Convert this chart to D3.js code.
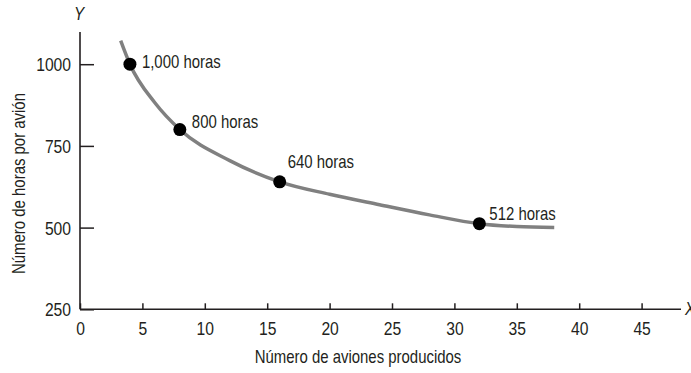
<!DOCTYPE html>
<html>
<head>
<meta charset="utf-8">
<script src="https://cdn.jsdelivr.net/npm/d3@7"></script>
<style>
  html, body { margin: 0; padding: 0; background: #fff; }
  svg { display: block; font-family: "Liberation Sans", Arial, sans-serif; }
  .axis text { font-size: 18px; fill: #231f20; }
  .axis path.domain { display: none; }
  .axis line { stroke: #231f20; stroke-width: 1.5; }
</style>
</head>
<body>
<svg id="chart" width="691" height="373"></svg>
<script>
// Learning curve: hours needed per plane as cumulative output grows
const planeCount = [4, 8, 16, 32];
const hoursPerPlane = [1000, 800, 640, 512];
const pointLabels = ["1,000 horas", "800 horas", "640 horas", "512 horas"];

// Traced learning curve through the production points
const curveX = [3.26, 4, 6, 8, 12, 16, 20, 24, 28, 32, 35, 38];
const curveY = [1072, 1000, 882, 800, 705, 640, 602, 570, 539, 512, 503, 500];

const xTicks = [0, 5, 10, 15, 20, 25, 30, 35, 40, 45];
const yTicks = [250, 500, 750, 1000];

const xTitle = "Número de aviones producidos";
const yTitle = "Número de horas por avión";

const svg = d3.select("#chart");

const x = d3.scaleLinear().domain([0, 45]).range([80, 641.6]);
const y = d3.scaleLinear().domain([250, 1000]).range([309.3, 64.2]);

const ink = "#231f20";

// Narrow the glyphs horizontally around each text's own anchor point
function condense(sel, s) {
  sel.each(function () {
    const t = d3.select(this);
    const tx = +t.attr("x") || 0;
    t.attr("transform", `translate(${tx},0) scale(${s},1) translate(${-tx},0)`);
  });
}

// Axes
svg.append("g")
  .attr("class", "axis")
  .attr("transform", `translate(0,${y(250)})`)
  .call(d3.axisBottom(x).tickValues(xTicks).tickSize(-6).tickPadding(13).tickFormat(d3.format("d")))
  .selectAll("text").call(condense, 0.87);

svg.append("g")
  .attr("class", "axis")
  .attr("transform", `translate(${x(0)},0)`)
  .call(d3.axisLeft(y).tickValues(yTicks).tickSize(-14).tickPadding(9).tickFormat(d3.format("d")))
  .selectAll("text").attr("dy", "0.36em").call(condense, 0.87);

// Axis lines
svg.append("line")
  .attr("x1", x(0)).attr("x2", x(0))
  .attr("y1", 32).attr("y2", y(250))
  .attr("stroke", ink).attr("stroke-width", 1.6);
svg.append("line")
  .attr("x1", x(0)).attr("x2", 681)
  .attr("y1", y(250)).attr("y2", y(250))
  .attr("stroke", ink).attr("stroke-width", 1.6);

// Axis letters
svg.append("text")
  .attr("x", x(0) - 1).attr("y", 20)
  .attr("text-anchor", "middle")
  .attr("font-size", 18).attr("font-style", "italic")
  .attr("fill", ink).text("Y")
  .call(condense, 0.85);
svg.append("text")
  .attr("x", 685).attr("y", y(250) + 6)
  .attr("font-size", 18).attr("font-style", "italic")
  .attr("fill", ink).text("X")
  .call(condense, 0.85);

// Axis titles
svg.append("text")
  .attr("x", 358).attr("y", 363)
  .attr("text-anchor", "middle")
  .attr("font-size", 18).attr("fill", ink)
  .text(xTitle)
  .call(condense, 0.83);
svg.append("text")
  .attr("transform", "translate(25,183.5) rotate(-90) scale(0.83,1)")
  .attr("text-anchor", "middle")
  .attr("font-size", 18).attr("fill", ink)
  .text(yTitle);

// Curve
const curvePts = curveX.map((d, i) => [d, curveY[i]]);
svg.append("path")
  .datum(curvePts)
  .attr("fill", "none")
  .attr("stroke", "#808080")
  .attr("stroke-width", 3.5)
  .attr("stroke-linecap", "butt")
  .attr("d", d3.line().x(d => x(d[0])).y(d => y(d[1])).curve(d3.curveMonotoneX));

// Points and labels
const pts = planeCount.map((d, i) => ({ n: d, h: hoursPerPlane[i], label: pointLabels[i] }));
const labelShift = [[12, 4], [12, -2], [8, -14], [10, -4]];

svg.selectAll("circle.pt")
  .data(pts)
  .join("circle")
  .attr("class", "pt")
  .attr("cx", d => x(d.n))
  .attr("cy", d => y(d.h))
  .attr("r", 6.5)
  .attr("fill", "#000");

svg.selectAll("text.pt-label")
  .data(pts)
  .join("text")
  .attr("class", "pt-label")
  .attr("x", (d, i) => x(d.n) + labelShift[i][0])
  .attr("y", (d, i) => y(d.h) + labelShift[i][1])
  .attr("font-size", 18)
  .attr("fill", ink)
  .text(d => d.label)
  .call(condense, 0.83);
</script>
</body>
</html>
